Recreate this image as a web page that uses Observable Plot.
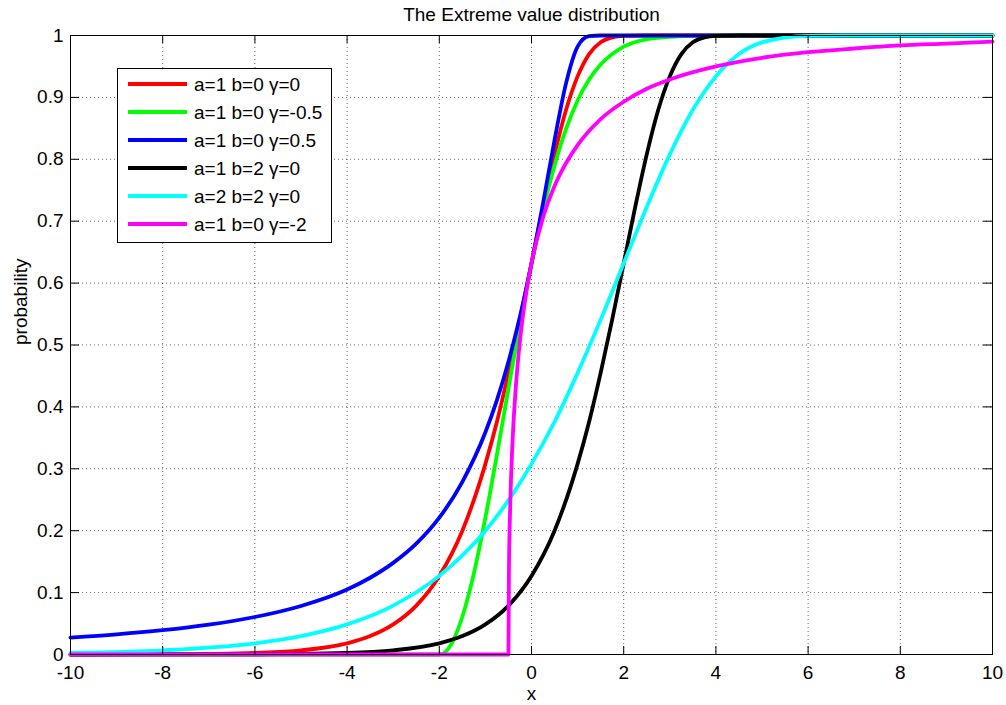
<!DOCTYPE html>
<html><head><meta charset="utf-8">
<script src="https://cdn.jsdelivr.net/npm/d3@7"></script>
<script src="https://cdn.jsdelivr.net/npm/@observablehq/plot@0.6"></script>
<style>body{margin:0;background:#fff;font-family:"Liberation Sans",Arial,sans-serif}</style>
</head><body><div id="chart"></div><script>
// ---- data ----
const titleText = "The Extreme value distribution";
const xLabel = "x";
const yLabel = "probability";
const xTicks = [-10, -8, -6, -4, -2, 0, 2, 4, 6, 8, 10];
const yTicks = [0, 0.1, 0.2, 0.3, 0.4, 0.5, 0.6, 0.7, 0.8, 0.9, 1];
const seriesNames = ["a=1 b=0 γ=0", "a=1 b=0 γ=-0.5", "a=1 b=0 γ=0.5", "a=1 b=2 γ=0", "a=2 b=2 γ=0", "a=1 b=0 γ=-2"];
const seriesColors = ["#ff0000", "#00ff00", "#0000ff", "#000000", "#00ffff", "#ff00ff"];

const redX = [-10, -8, -7, -6, -5, -4, -3.5, -3, -2.5, -2, -1.5, -1, -0.75, -0.5, -0.25, 0, 0.25, 0.5, 0.75, 1, 1.25, 1.5, 1.75, 2, 2.5, 3, 10];
const redY = [0, 0.0003, 0.0009, 0.0025, 0.0067, 0.018, 0.0297, 0.0486, 0.079, 0.127, 0.200, 0.308, 0.376, 0.455, 0.541, 0.632, 0.723, 0.808, 0.880, 0.934, 0.970, 0.989, 0.997, 0.9994, 1, 1, 1];

const greenX = [-10, -2, -1.75, -1.5, -1.25, -1, -0.75, -0.5, -0.25, 0, 0.25, 0.5, 0.75, 1, 1.25, 1.5, 2, 2.5, 3, 3.5, 4, 10];
const greenY = [0, 0, 0.0155, 0.061, 0.131, 0.221, 0.323, 0.430, 0.535, 0.632, 0.718, 0.790, 0.849, 0.895, 0.929, 0.953, 0.982, 0.994, 0.998, 0.9995, 1, 1];

const blueX = [-10, -9, -8, -7, -6, -5, -4, -3.5, -3, -2.5, -2, -1.5, -1, -0.75, -0.5, -0.25, 0, 0.25, 0.5, 0.75, 1, 1.25, 1.5, 2, 10];
const blueY = [0.0274, 0.0325, 0.0392, 0.0482, 0.0606, 0.0784, 0.105, 0.124, 0.148, 0.179, 0.221, 0.279, 0.359, 0.411, 0.473, 0.546, 0.632, 0.729, 0.831, 0.923, 0.982, 0.999, 1, 1, 1];

const blackX = [-10, -6, -4, -3, -2, -1.5, -1, -0.5, 0, 0.5, 1, 1.25, 1.5, 1.75, 2, 2.25, 2.5, 2.75, 3, 3.25, 3.5, 3.75, 4, 4.5, 5, 10];
const blackY = [0, 0.0003, 0.0025, 0.0067, 0.018, 0.0297, 0.0486, 0.079, 0.127, 0.200, 0.308, 0.376, 0.455, 0.541, 0.632, 0.723, 0.808, 0.880, 0.934, 0.970, 0.989, 0.997, 0.9994, 1, 1, 1];

const cyanX = [-10, -8, -6, -5, -4, -3, -2, -1.5, -1, -0.5, 0, 0.5, 1, 1.5, 2, 2.5, 3, 3.5, 4, 4.5, 5, 6, 7, 8, 10];
const cyanY = [0.0025, 0.0067, 0.018, 0.0297, 0.0486, 0.079, 0.127, 0.160, 0.200, 0.249, 0.308, 0.376, 0.455, 0.541, 0.632, 0.723, 0.808, 0.880, 0.934, 0.970, 0.989, 0.9994, 1, 1, 1];

const magentaX = [-10, -0.5, -0.49, -0.47, -0.45, -0.4, -0.35, -0.3, -0.2, -0.1, 0, 0.25, 0.5, 0.75, 1, 1.5, 2, 2.5, 3, 4, 5, 6, 7, 8, 9, 10];
const magentaY = [0, 0, 0.132, 0.217, 0.271, 0.361, 0.422, 0.469, 0.539, 0.591, 0.632, 0.706, 0.757, 0.794, 0.823, 0.865, 0.893, 0.914, 0.929, 0.950, 0.964, 0.973, 0.979, 0.984, 0.987, 0.990];

const seriesX = [redX, greenX, blueX, blackX, cyanX, magentaX];
const seriesY = [redY, greenY, blueY, blackY, cyanY, magentaY];

// ---- build ----
const W = 1006, H = 705;
const mL = 70, mR = 14, mT = 35, mB = 51;
const fw = W - mL - mR, fh = H - mT - mB;
const font = "Liberation Sans, Arial, Helvetica, sans-serif";
const fs = 19;

const lineMarks = seriesNames.map((name, i) => {
  const rows = seriesX[i].map((x, j) => ({x, y: seriesY[i][j]}));
  return Plot.line(rows, {x: "x", y: "y", stroke: seriesColors[i], strokeWidth: 3.8, curve: "monotone-x"});
});

const gridStyle = {stroke: "#000", strokeOpacity: 0.6, strokeDasharray: "1,3", strokeWidth: 1};

const chart = Plot.plot({
  width: W, height: H,
  marginLeft: mL, marginRight: mR, marginTop: mT, marginBottom: mB,
  style: {fontFamily: font, fontSize: fs + "px", background: "white", color: "black", overflow: "visible"},
  x: {domain: [-10, 10], label: null},
  y: {domain: [0, 1], label: null},
  marks: [
    Plot.gridX(xTicks.slice(1, -1), gridStyle),
    Plot.gridY(yTicks.slice(1, -1), gridStyle),
    ...lineMarks,
    Plot.frame({stroke: "#000", strokeWidth: 1}),
    Plot.tickX(xTicks, {x: d => d, insetTop: fh - 8, stroke: "#000"}),
    Plot.tickX(xTicks, {x: d => d, insetBottom: fh - 8, stroke: "#000"}),
    Plot.tickY(yTicks, {y: d => d, insetRight: fw - 9, stroke: "#000"}),
    Plot.tickY(yTicks, {y: d => d, insetLeft: fw - 9, stroke: "#000"}),
    Plot.axisX(xTicks, {tickSize: 0, tickPadding: 11, tickFormat: d => String(d), fontSize: fs, label: null}),
    Plot.axisY(yTicks, {tickSize: 0, tickPadding: 7, tickFormat: d => String(d), fontSize: fs, label: null}),
    Plot.text([titleText], {frameAnchor: "top", dy: -28, fontSize: fs}),
    Plot.text([xLabel], {frameAnchor: "bottom", dy: 45, fontSize: fs}),
    Plot.text([yLabel], {frameAnchor: "left", dx: -50, rotate: -90, fontSize: fs})
  ]
});
document.getElementById("chart").appendChild(chart);

// legend box (drawn over the plot area, upper left)
const svg = d3.select(chart);
const lg = svg.append("g").attr("font-family", font).attr("font-size", fs).attr("text-anchor", "start");
lg.append("rect").attr("x", 117.5).attr("y", 68.5).attr("width", 214).attr("height", 174)
  .attr("fill", "white").attr("stroke", "black").attr("stroke-width", 1);
seriesNames.forEach((n, i) => {
  const y = 84 + 28 * i;
  lg.append("line").attr("x1", 128).attr("x2", 187).attr("y1", y).attr("y2", y)
    .attr("stroke", seriesColors[i]).attr("stroke-width", 3.8);
  lg.append("text").attr("x", 194).attr("y", y).attr("dy", "0.35em").attr("fill", "black")
    .attr("text-anchor", "start").text(n);
});
</script></body></html>
